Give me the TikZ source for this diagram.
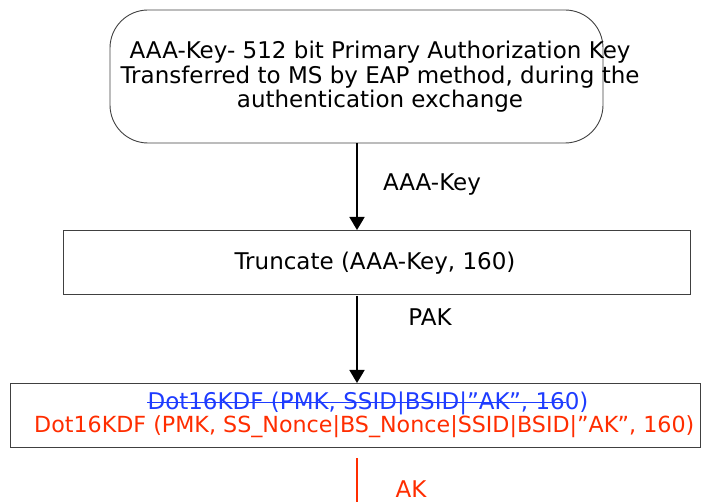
\documentclass[tikz,border=0pt]{standalone}
\usepackage{fontspec}
\setmainfont{DejaVu Sans}
\usetikzlibrary{arrows.meta}
\definecolor{kred}{RGB}{255,45,0}
\definecolor{kblue}{RGB}{30,60,255}
\begin{document}
\begin{tikzpicture}[x=1pt,y=-1pt,
  box/.style={draw=black!75,line width=0.9pt,inner sep=0pt},
  txt/.style={inner sep=0pt,font=\fontsize{23}{24.5}\selectfont,align=center},
  arr/.style={line width=1.8pt,-{Triangle[width=15pt,length=13pt]}}]
\useasboundingbox (0,0) rectangle (704,502);
\node[box,rounded corners=38pt,minimum width=493pt,minimum height=133pt] (key) at (356.5,76.5) {};
\node[txt] (keytext) at (380,77) {AAA-Key- 512 bit Primary Authorization Key\\Transferred to MS by EAP method, during the\\authentication exchange};
\node[box,minimum width=627pt,minimum height=64pt] (trunc) at (376.5,262) {};
\node[txt] (trunctext) at (375,263) {Truncate (AAA-Key, 160)};
\node[box,minimum width=690pt,minimum height=64pt] (kdf) at (355,415) {};
\node[txt,text=kblue] (blue) at (368,403) {Dot16KDF (PMK, SSID|BSID|”AK”, 160)};
\node[txt,text=kred,anchor=west,font=\fontsize{22.2}{24.5}\selectfont] (red) at (34,427) {Dot16KDF (PMK, SS\_Nonce|BS\_Nonce|SSID|BSID|”AK”, 160)};
\draw[kblue,line width=0.9pt] ([yshift=7pt]blue.base west) -- ([xshift=-23pt,yshift=7pt]blue.base east);
\draw[arr] (357,143) -- (357,230);
\node[txt] (l1) at (432,185) {AAA-Key};
\draw[arr] (357,296) -- (357,383);
\node[txt] (l2) at (430,317) {PAK};
\coordinate (end) at (357,502);
\draw[kred,line width=1.2pt] (357,458) -- (end);
\node[txt,text=kred] (l3) at (411,489) {AK};
\end{tikzpicture}
\end{document}
